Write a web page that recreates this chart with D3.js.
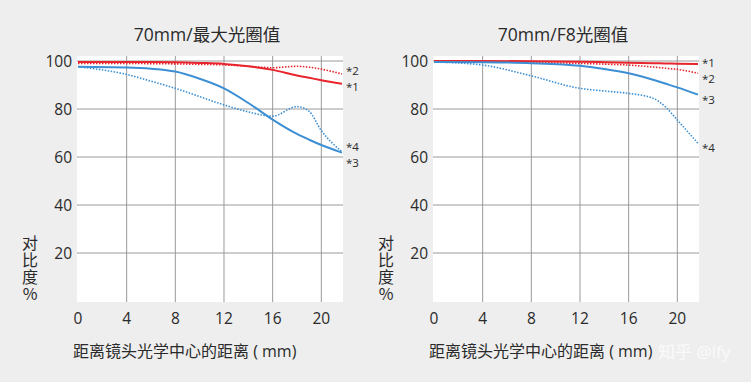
<!DOCTYPE html>
<html>
<head>
<meta charset="utf-8">
<script src="https://cdn.jsdelivr.net/npm/d3@7/dist/d3.min.js"></script>
<style>
  html, body { margin: 0; padding: 0; background: #eeeeee; }
  svg { display: block; font-family: "Open Sans", "Noto Sans CJK SC", sans-serif; }
  .grid line { stroke: #9a9a9a; stroke-width: 1; }
  .tick-label { font-size: 15.5px; fill: #2a2a2a; }
  .ytitle { font-family: "Noto Sans CJK SC", sans-serif; writing-mode: vertical-rl; text-orientation: upright; letter-spacing: 1px; }
</style>
</head>
<body>
<svg id="chart" width="751" height="382"></svg>
<script>
// ── Data ──
const xTicks = [0, 4, 8, 12, 16, 20];
const yTicks = [20, 40, 60, 80, 100];

// left panel: 70mm / max aperture
const leftX  = [0, 4, 6, 8, 10, 12, 14, 16, 18, 19, 20, 21.7];
const left1  = [99.6, 99.6, 99.6, 99.5, 99.2, 98.8, 97.8, 96.3, 94.0, 93.0, 92.0, 90.5];   // *1 red solid
const left2  = [99.0, 99.0, 98.9, 98.8, 98.6, 98.4, 97.8, 97.2, 97.8, 97.4, 96.6, 94.6];   // *2 red dotted
const left3  = [97.6, 97.3, 96.8, 95.6, 92.6, 88.6, 82.5, 75.6, 69.6, 67.2, 65.0, 61.8];   // *3 blue solid
const left4  = [97.6, 94.4, 91.6, 88.6, 85.2, 81.7, 78.8, 77.0, 81.0, 79.0, 71.0, 62.2];   // *4 blue dotted

// right panel: 70mm / F8
const rightX = [0, 4, 8, 12, 14, 16, 18, 19, 20, 21.7];
const right1 = [100, 100, 99.9, 99.7, 99.5, 99.3, 99.1, 99.0, 98.9, 98.7];
const right2 = [99.7, 99.6, 99.4, 99.0, 98.7, 98.3, 97.5, 97.0, 96.5, 94.9];
const right3 = [99.6, 99.5, 99.1, 98.0, 96.7, 94.9, 92.2, 90.6, 89.0, 86.0];
const right4 = [99.6, 98.3, 93.8, 88.6, 87.5, 86.5, 84.5, 81.0, 75.4, 65.7];

const red = '#e8242c';
const blue = '#3d8fd4';

const svg = d3.select('#chart');

function drawPanel(ox, title, xs, series, labels) {
  const x = d3.scaleLinear().domain([0, 21.7]).range([ox + 1, ox + 265]);
  const y = d3.scaleLinear().domain([0, 100]).range([301, 61]);

  // white plot area
  svg.append('rect').attr('x', ox).attr('y', 56).attr('width', 266).attr('height', 246).attr('fill', '#fff');

  const g = svg.append('g').attr('class', 'grid');
  g.selectAll('.v').data(xTicks.filter(d => d > 0)).enter().append('line')
    .attr('x1', d => x(d)).attr('x2', d => x(d)).attr('y1', 56).attr('y2', 302);
  g.selectAll('.h').data(yTicks).enter().append('line')
    .attr('x1', ox).attr('x2', ox + 266).attr('y1', d => y(d)).attr('y2', d => y(d));

  // tick labels
  svg.selectAll(null).data(xTicks).enter().append('text')
    .attr('class', 'tick-label').attr('x', d => x(d)).attr('y', 324)
    .attr('text-anchor', 'middle').text(d => d);
  svg.selectAll(null).data(yTicks).enter().append('text')
    .attr('class', 'tick-label').attr('x', ox - 5).attr('y', d => y(d) + 5.5)
    .attr('text-anchor', 'end').text(d => d);

  // title
  svg.append('text').attr('x', ox + 130).attr('y', 41).attr('text-anchor', 'middle')
    .attr('font-size', 17.5).attr('fill', '#2a2a2a').text(title);

  // axis titles
  svg.append('text').attr('x', ox - 4).attr('y', 357).attr('font-size', 16)
    .attr('fill', '#2a2a2a').text('距离镜头光学中心的距离 ( mm)');
  svg.append('text').attr('class', 'ytitle')
    .attr('x', ox - 47).attr('y', 235)
    .attr('font-size', 16).attr('fill', '#2a2a2a')
    .text('对比度%');

  // curves
  const styles = [
    { c: red, w: 2, dash: null },
    { c: red, w: 1.6, dash: '1.5,1.5' },
    { c: blue, w: 2, dash: null },
    { c: blue, w: 1.6, dash: '1.5,1.5' }
  ];
  series.forEach((vals, i) => {
    const line = d3.line().x((d, j) => x(xs[j])).y(d => y(d)).curve(d3.curveMonotoneX);
    svg.append('path').datum(vals).attr('d', line).attr('fill', 'none')
      .attr('stroke', styles[i].c).attr('stroke-width', styles[i].w)
      .attr('stroke-dasharray', styles[i].dash);
  });

  // end labels
  labels.forEach(l => {
    svg.append('text').attr('x', ox + 269).attr('y', l.y).attr('font-size', 11.5)
      .attr('fill', '#2a2a2a').text(l.t);
  });
}

drawPanel(77, '70mm/最大光圈值', leftX, [left1, left2, left3, left4],
  [{ t: '*2', y: 75 }, { t: '*1', y: 91 }, { t: '*4', y: 151 }, { t: '*3', y: 167 }]);
drawPanel(433, '70mm/F8光圈值', rightX, [right1, right2, right3, right4],
  [{ t: '*1', y: 67 }, { t: '*2', y: 83 }, { t: '*3', y: 104 }, { t: '*4', y: 152 }]);

// watermark
svg.append('text').attr('x', 658).attr('y', 358).attr('font-size', 17)
  .attr('fill', '#ffffff').attr('fill-opacity', 0.75).text('知乎 @lfy');
</script>
</body>
</html>
